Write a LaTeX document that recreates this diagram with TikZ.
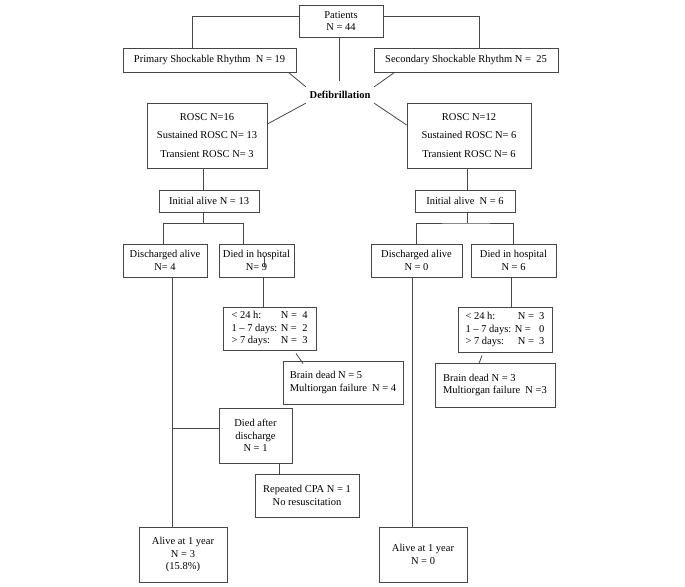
\documentclass[tikz,border=0pt]{standalone}
\usepackage{fontspec}
\setmainfont{Liberation Serif}
\definecolor{lc}{RGB}{70,70,70}
\begin{document}
\begin{tikzpicture}[x=1pt,y=-1pt,
  every node/.style={font=\fontsize{10.5}{12.5}\selectfont},
  box/.style={draw=lc, line width=0.8pt, inner sep=0pt, align=center},
  conn/.style={draw=lc, line width=0.8pt}]
\useasboundingbox (0,0) rectangle (685,586);

% boxes
\node[box, minimum width=84pt, minimum height=32pt] (pat) at (341,21) {Patients\\N = 44};
\node[box, minimum width=173pt, minimum height=24pt] (prim) at (209.5,60) {Primary Shockable Rhythm\ \ N = 19};
\node[box, minimum width=184pt, minimum height=24pt] (sec) at (466,60) {Secondary Shockable Rhythm N =\ \ 25};
\node[inner sep=0pt, minimum width=68pt, minimum height=16pt, font=\fontsize{10.5}{12.5}\selectfont\bfseries] (defib) at (340,95) {Defibrillation};
\node[box, minimum width=120pt, minimum height=65pt] (rosc1) at (207,135.5) {ROSC N=16\\[6pt]Sustained ROSC N= 13\\[6pt]Transient ROSC N= 3};
\node[box, minimum width=124pt, minimum height=65pt] (rosc2) at (469,135.5) {ROSC N=12\\[6pt]Sustained ROSC N= 6\\[6pt]Transient ROSC N= 6};
\node[box, minimum width=100pt, minimum height=22pt] (ini1) at (209,201) {Initial alive N = 13};
\node[box, minimum width=100pt, minimum height=22pt] (ini2) at (465,201) {Initial alive\ \ N = 6};
\node[box, minimum width=84pt, minimum height=33pt] (dis1) at (165,260.5) {Discharged alive\\N= 4};
\node[box, minimum width=75pt, minimum height=33pt] (died1) at (256.5,260.5) {Died in hospital\\N= 9};
\node[box, minimum width=91pt, minimum height=33pt] (dis2) at (416.5,260.5) {Discharged alive\\N = 0};
\node[box, minimum width=85pt, minimum height=33pt] (died2) at (513.5,260.5) {Died in hospital\\N = 6};
\node[box, align=left, minimum width=93pt, minimum height=43pt] (h1) at (269.5,328.5)
  {\makebox[76pt][l]{< 24 h:\hfill N =\ \ 4}\\\makebox[76pt][l]{1 – 7 days: N =\hfill 2}\\\makebox[76pt][l]{> 7 days:\hfill N =\ \ 3}};
\node[box, align=left, minimum width=94pt, minimum height=45pt] (h2) at (505,329.5)
  {\makebox[79pt][l]{< 24 h:\hfill N =\ \ 3}\\\makebox[79pt][l]{1 – 7 days: N =\hfill 0}\\\makebox[79pt][l]{> 7 days:\hfill N =\ \ 3}};
\node[box, align=left, minimum width=120pt, minimum height=43pt] (bd1) at (343,382.5) {Brain dead N = 5\\Multiorgan failure\ \ N = 4};
\node[box, align=left, minimum width=120pt, minimum height=44pt] (bd2) at (495,385) {Brain dead N = 3\\Multiorgan failure\ \ N =3};
\node[box, minimum width=73pt, minimum height=55pt] (da) at (255.5,435.5) {Died after\\discharge\\N = 1};
\node[box, minimum width=104pt, minimum height=43pt] (cpa) at (307,495.5) {Repeated CPA N = 1\\No resuscitation};
\node[box, minimum width=88pt, minimum height=55pt] (alive1) at (183,554.5) {Alive at 1 year\\N = 3\\(15.8\%)};
\node[box, minimum width=88pt, minimum height=55pt] (alive2) at (423,554.5) {Alive at 1 year\\N = 0};

% column coordinates
\coordinate (cL) at (203,0);
\coordinate (cR) at (467,0);
\coordinate (cA) at (172,0);
\coordinate (cB) at (263,0);
\coordinate (cC) at (511,0);
\coordinate (cD) at (279,0);
\coordinate (cE) at (412,0);
\coordinate (jL) at (203,223);
\coordinate (bL1) at (163,223);
\coordinate (bL2) at (243,223);
\coordinate (jR) at (467,223);

% connectors
\draw[conn] ([yshift=5pt]pat.west) -| ([xshift=-17.5pt]prim.north);
\draw[conn] ([yshift=5pt]pat.east) -| ([xshift=13pt]sec.north);
\draw[conn] ([xshift=-2pt]pat.south) -- ([xshift=-1pt,yshift=6pt]defib.north);
\draw[conn] ([xshift=-8pt]prim.south east) -- (defib.north west);
\draw[conn] ([xshift=21pt]sec.south west) -- (defib.north east);
\draw[conn] (defib.south west) -- ([yshift=11.5pt]rosc1.east);
\draw[conn] (defib.south east) -- ([yshift=10.5pt]rosc2.west);
\draw[conn] (rosc1.south -| cL) -- (ini1.north -| cL);
\draw[conn] (rosc2.south -| cR) -- (ini2.north -| cR);
\draw[conn] (ini1.south -| cL) -- (jL);
\draw[conn] (dis1.north -| bL1) -- (bL1) -- (bL2) -- (died1.north -| bL2);
\draw[conn] (ini2.south -| cR) -- (jR);
\draw[conn] (dis2.north) |- (jR) -| (died2.north);
\draw[conn] (dis1.south -| cA) -- (alive1.north -| cA);
\draw[conn] ([yshift=7.5pt]da.west) -- ([yshift=7.5pt]da.west -| cA);
\draw[conn] (died1.south -| cB) -- (h1.north -| cB);
\draw[conn] (died2.south -| cC) -- (h2.north -| cC);
\draw[conn] ([xshift=26.5pt,yshift=-3pt]h1.south) -- ([xshift=-40pt,yshift=-3pt]bd1.north);
\draw[conn] ([xshift=-23pt,yshift=-3pt]h2.south) -- ([xshift=-16pt,yshift=-1pt]bd2.north);
\draw[conn] (da.south -| cD) -- (cpa.north -| cD);
\draw[conn] (dis2.south -| cE) -- (alive2.north -| cE);
\draw[conn, line width=0.6pt] ([xshift=7.5pt,yshift=4.5pt]died1.center) -- ++(0,11);
\end{tikzpicture}
\end{document}
